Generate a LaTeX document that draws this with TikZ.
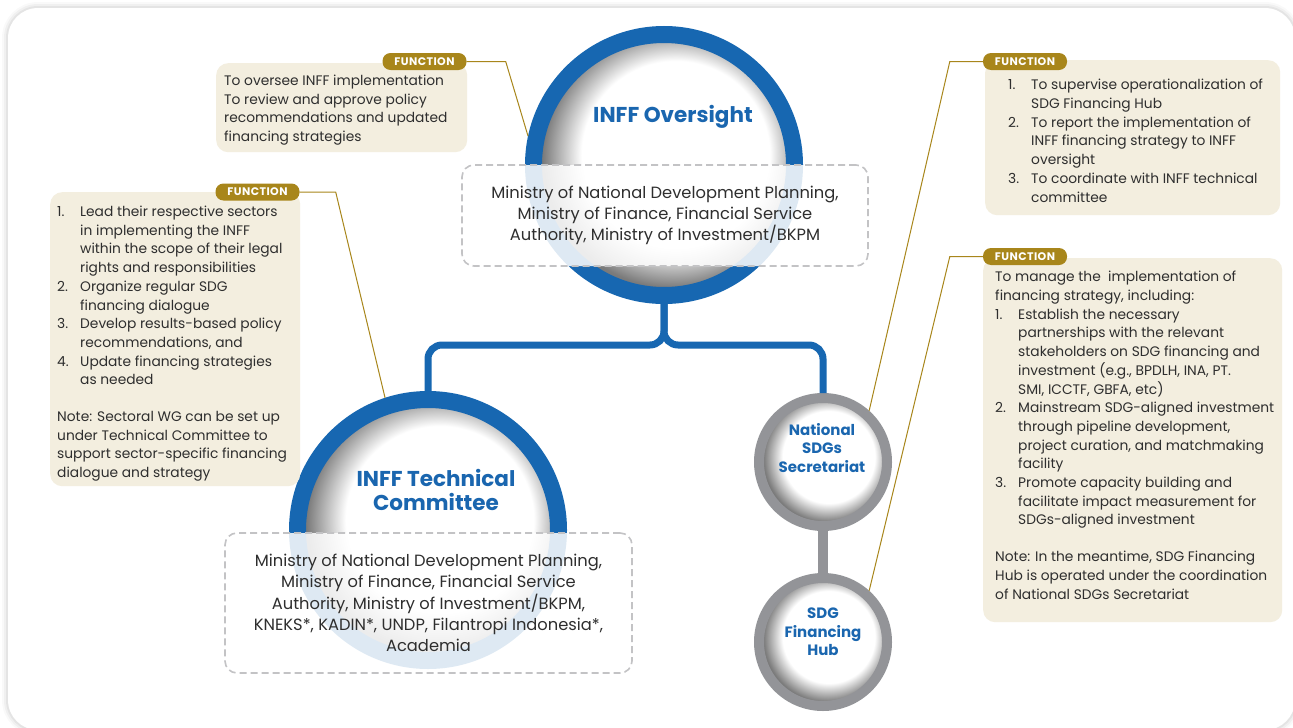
\documentclass[tikz,border=0pt]{standalone}
\usepackage{fontspec}
\setmainfont{Poppins}
\newfontfamily\tagfont[LetterSpace=4]{Poppins}
\usepackage{tikz}
\usetikzlibrary{positioning}

\definecolor{ringblue}{HTML}{1767B1}
\definecolor{titleblue}{HTML}{1A66AF}
\definecolor{ringgray}{HTML}{939498}
\definecolor{gold}{HTML}{A8861B}
\definecolor{beige}{HTML}{F3EEDF}
\definecolor{dashgray}{HTML}{C3C3C5}
\definecolor{txt}{HTML}{2E2E2E}

\pgfdeclareradialshading{innershade}{\pgfpoint{3.5bp}{3bp}}{color(0bp)=(white); color(18bp)=(white); color(25bp)=(black!52); color(50bp)=(black!52)}

\newlength\numw
\setlength\numw{23pt}
\newcommand\num[1]{\makebox[\numw][l]{#1}}
\newcommand\cnt{\hspace*{\numw}}

\begin{document}
\begin{tikzpicture}[x=1pt,y=-1pt,
    ring/.style={circle,inner sep=0pt,shade,shading=innershade},
    bigring/.style={ring,draw=ringblue,line width=17pt,minimum size=261pt},
    smallring/.style={ring,draw=ringgray,line width=10pt,minimum size=128pt},
    ttl/.style={text=titleblue,align=center,font=\bfseries\fontsize{21.5}{24}\selectfont},
    sttl/.style={text=titleblue,align=center,font=\bfseries\fontsize{15}{18.5}\selectfont},
    member/.style={draw=dashgray,line width=1.6pt,dash pattern=on 7pt off 4pt,rounded corners=12,
      fill=white,fill opacity=0.86,text opacity=1,text=txt,align=center,
      font=\fontsize{16.3}{21.3}\selectfont},
    fnbox/.style={fill=beige,rounded corners=12,anchor=north west,inner sep=0pt},
    fntext/.style={text=txt,align=left,inner sep=0pt,font=\fontsize{13.8}{18.7}\selectfont},
    tag/.style={fill=gold,rounded corners=8,text=white,inner sep=0pt,
      minimum width=84pt,minimum height=17pt,font=\tagfont\bfseries\fontsize{11}{12}\selectfont},
    goldline/.style={gold,line width=1pt},
    bluelink/.style={ringblue,line width=7pt,rounded corners=14},
    graylink/.style={ringgray,line width=10pt}]

\useasboundingbox (0,0) rectangle (1293,728);
% panel
\foreach \w/\o in {12/0.025,8/0.035,4/0.05}
  \draw[line width=\w pt,black,draw opacity=\o,rounded corners=30] (8,8) rectangle (1295,730);
\fill[white,rounded corners=30] (8,8) rectangle (1295,730);

% circles
\node[bigring] (over) at (664,165) {};
\node[bigring] (tech) at (428,530) {};
\node[smallring] (sec) at (823,462) {};
\node[smallring] (hub) at (823,642) {};

\node[ttl] (overT) at (673,117) {INFF Oversight};
\node[ttl] (techT) at (436,490) {INFF Technical\\Committee};
\node[sttl] (secT) at (822,448) {National\\SDGs\\Secretariat};
\node[sttl] (hubT) at (823,632) {SDG\\Financing\\Hub};

% members
\node[member,minimum width=406pt,minimum height=101pt] (overM) at (665,215.5)
  {Ministry of National Development Planning,\\
   Ministry of Finance, Financial Service\\
   Authority, Ministry of Investment/BKPM};
\node[member,minimum width=407pt,minimum height=140pt] (techM) at (428.5,603)
  {Ministry of National Development Planning,\\
   Ministry of Finance, Financial Service\\
   Authority, Ministry of Investment/BKPM,\\
   KNEKS*, KADIN*, UNDP, Filantropi Indonesia*,\\
   Academia};

% links
\coordinate (split) at (664,345);
\draw[bluelink] (over.south) -- (split) -| (tech.north);
\draw[bluelink] (over.south) -- (split) -| (sec.north);
\draw[graylink] (sec.south) -- (hub.north);

% functions
\node[fnbox,minimum width=251pt,minimum height=89pt] (overF) at (216,63) {};
\node[fntext,right=8pt of overF.west,yshift=-2.5pt]
  {To oversee INFF implementation\\
   To review and approve policy\\
   recommendations and updated\\
   financing strategies};

\node[fnbox,minimum width=250pt,minimum height=294pt] (techF) at (50,192) {};
\node[fntext,right=7pt of techF.west,yshift=-4.5pt]
  {\num{1.}Lead their respective sectors\\
   \cnt in implementing the INFF\\
   \cnt within the scope of their legal\\
   \cnt rights and responsibilities\\
   \num{2.}Organize regular SDG\\
   \cnt financing dialogue\\
   \num{3.}Develop results-based policy\\
   \cnt recommendations, and\\
   \num{4.}Update financing strategies\\
   \cnt as needed\\[18pt]
   Note: Sectoral WG can be set up\\
   under Technical Committee to\\
   support sector-specific financing\\
   dialogue and strategy};

\node[fnbox,minimum width=295pt,minimum height=155pt] (secF) at (985,60) {};
\node[fntext,right=23pt of secF.west,yshift=-3pt]
  {\num{1.}To supervise operationalization of\\
   \cnt SDG Financing Hub\\
   \num{2.}To report the implementation of\\
   \cnt INFF financing strategy to INFF\\
   \cnt oversight\\
   \num{3.}To coordinate with INFF technical\\
   \cnt committee};

\node[fnbox,minimum width=299pt,minimum height=364pt] (hubF) at (983,258) {};
\node[fntext,right=12pt of hubF.west,yshift=5pt]
  {To manage the\ \ implementation of\\
   financing strategy, including:\\
   \num{1.}Establish the necessary\\
   \cnt partnerships with the relevant\\
   \cnt stakeholders on SDG financing and\\
   \cnt investment (e.g., BPDLH, INA, PT.\\
   \cnt SMI, ICCTF, GBFA, etc)\\
   \num{2.}Mainstream SDG-aligned investment\\
   \cnt through pipeline development,\\
   \cnt project curation, and matchmaking\\
   \cnt facility\\
   \num{3.}Promote capacity building and\\
   \cnt facilitate impact measurement for\\
   \cnt SDGs-aligned investment\\[18pt]
   Note: In the meantime, SDG Financing\\
   Hub is operated under the coordination\\
   of National SDGs Secretariat};

\node[tag] (overTag) at (424.5,61.5) {FUNCTION};
\node[tag] (techTag) at (257.5,192) {FUNCTION};
\node[tag] (secTag) at (1025,61.5) {FUNCTION};
\node[tag] (hubTag) at (1025,256.5) {FUNCTION};

\draw[goldline] (overTag.east) -- ++(39,0) -- (over.168);
\draw[goldline] (techTag.east) -- ++(36,0) -- (tech.108);
\draw[goldline] (secTag.west) -- ++(-33,0) -- (sec.48);
\draw[goldline] (hubTag.west) -- ++(-33,0) -- (hub.48);
\end{tikzpicture}
\end{document}
